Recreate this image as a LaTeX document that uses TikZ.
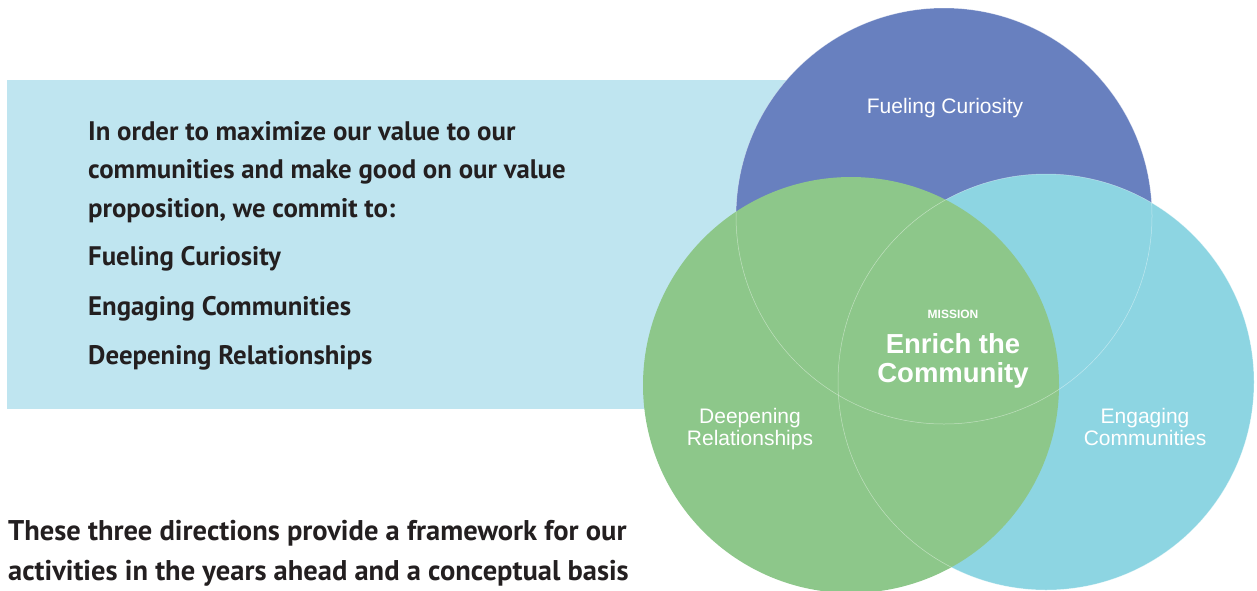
\documentclass[tikz,border=0pt]{standalone}
\usepackage{fontspec}
\usepackage{tikz}
\usetikzlibrary{positioning}
\newfontfamily\ptsans{PT Sans}
\newfontfamily\libsans{Liberation Sans}
\definecolor{boxblue}{HTML}{BFE5F0}
\definecolor{curblue}{HTML}{6880BF}
\definecolor{relgreen}{HTML}{8DC78A}
\definecolor{comcyan}{HTML}{8DD5E2}
\definecolor{textdark}{HTML}{231F20}

\begin{document}
\begin{tikzpicture}[x=1pt, y=-1pt,
    boxline/.style={font=\ptsans\bfseries\fontsize{26.8}{26.8}\selectfont, text=textdark, inner sep=0pt, text height=18pt, text depth=6pt},
    venline/.style={font=\libsans\fontsize{21}{21}\selectfont, text=white, inner sep=0pt, text height=15pt, text depth=5pt},
    venedge/.style={draw=white, draw opacity=0.45, line width=0.5pt}]
    \useasboundingbox (0,0) rectangle (1257,590);%fixes the page size
    \fill[boxblue] (7,80) rectangle (900,409);%draws the light box
    \coordinate (cfc) at (944,216);%centre of Fueling Curiosity
    \coordinate (cec) at (1046,382);%centre of Engaging Communities
    \coordinate (cdr) at (851,385);%centre of Deepening Relationships
    \fill[curblue] (cfc) circle[radius=208];%draws blue circle
    \fill[comcyan] (cec) circle[radius=208];%draws cyan circle
    \fill[relgreen] (cdr) circle[radius=208];%draws green circle
    \draw[venedge] (cfc) circle[radius=208];%faint edge of blue circle
    \draw[venedge] (cec) circle[radius=208];%faint edge of cyan circle
    \node (l1) [boxline, anchor=base west] at (88,140.5) {In order to maximize our value to our};%first line
    \node (l2) [boxline, below=14pt of l1.south west, anchor=north west] {communities and make good on our value};
    \node (l3) [boxline, below=14pt of l2.south west, anchor=north west] {proposition, we commit to:};
    \node (i1) [boxline, below=24pt of l3.south west, anchor=north west] {Fueling Curiosity};%list of directions
    \node (i2) [boxline, below=25pt of i1.south west, anchor=north west] {Engaging Communities};
    \node (i3) [boxline, below=25pt of i2.south west, anchor=north west] {Deepening Relationships};
    \node (b1) [boxline, font=\ptsans\bfseries\fontsize{28.5}{28.5}\selectfont, anchor=base west] at (8,540) {These three directions provide a framework for our};%text under the box
    \node (b2) [boxline, font=\ptsans\bfseries\fontsize{28.5}{28.5}\selectfont, below=16pt of b1.south west, anchor=north west] {activities in the years ahead and a conceptual basis};
    \node (fc) [venline, anchor=base] at (945,113) {Fueling Curiosity};%label in blue circle
    \node (dr1) [venline, anchor=base] at (750,423) {Deepening};%label in green circle
    \node (dr2) [venline, below=2pt of dr1] {Relationships};
    \node (ec1) [venline, anchor=base] at (1145,423) {Engaging};%label in cyan circle
    \node (ec2) [venline, below=2pt of ec1] {Communities};
    \node (ms) [font=\libsans\bfseries\fontsize{12}{12}\selectfont, text=white, inner sep=0pt, anchor=base] at (953,318) {MISSION};%mission tag
    \node (en1) [font=\libsans\bfseries\fontsize{27.5}{27.5}\selectfont, text=white, inner sep=0pt, text height=20pt, text depth=7pt, anchor=base] at (953,353) {Enrich the};%mission text
    \node (en2) [font=\libsans\bfseries\fontsize{27.5}{27.5}\selectfont, text=white, inner sep=0pt, text height=20pt, text depth=7pt, below=2pt of en1] {Community};
\end{tikzpicture}
\end{document}
